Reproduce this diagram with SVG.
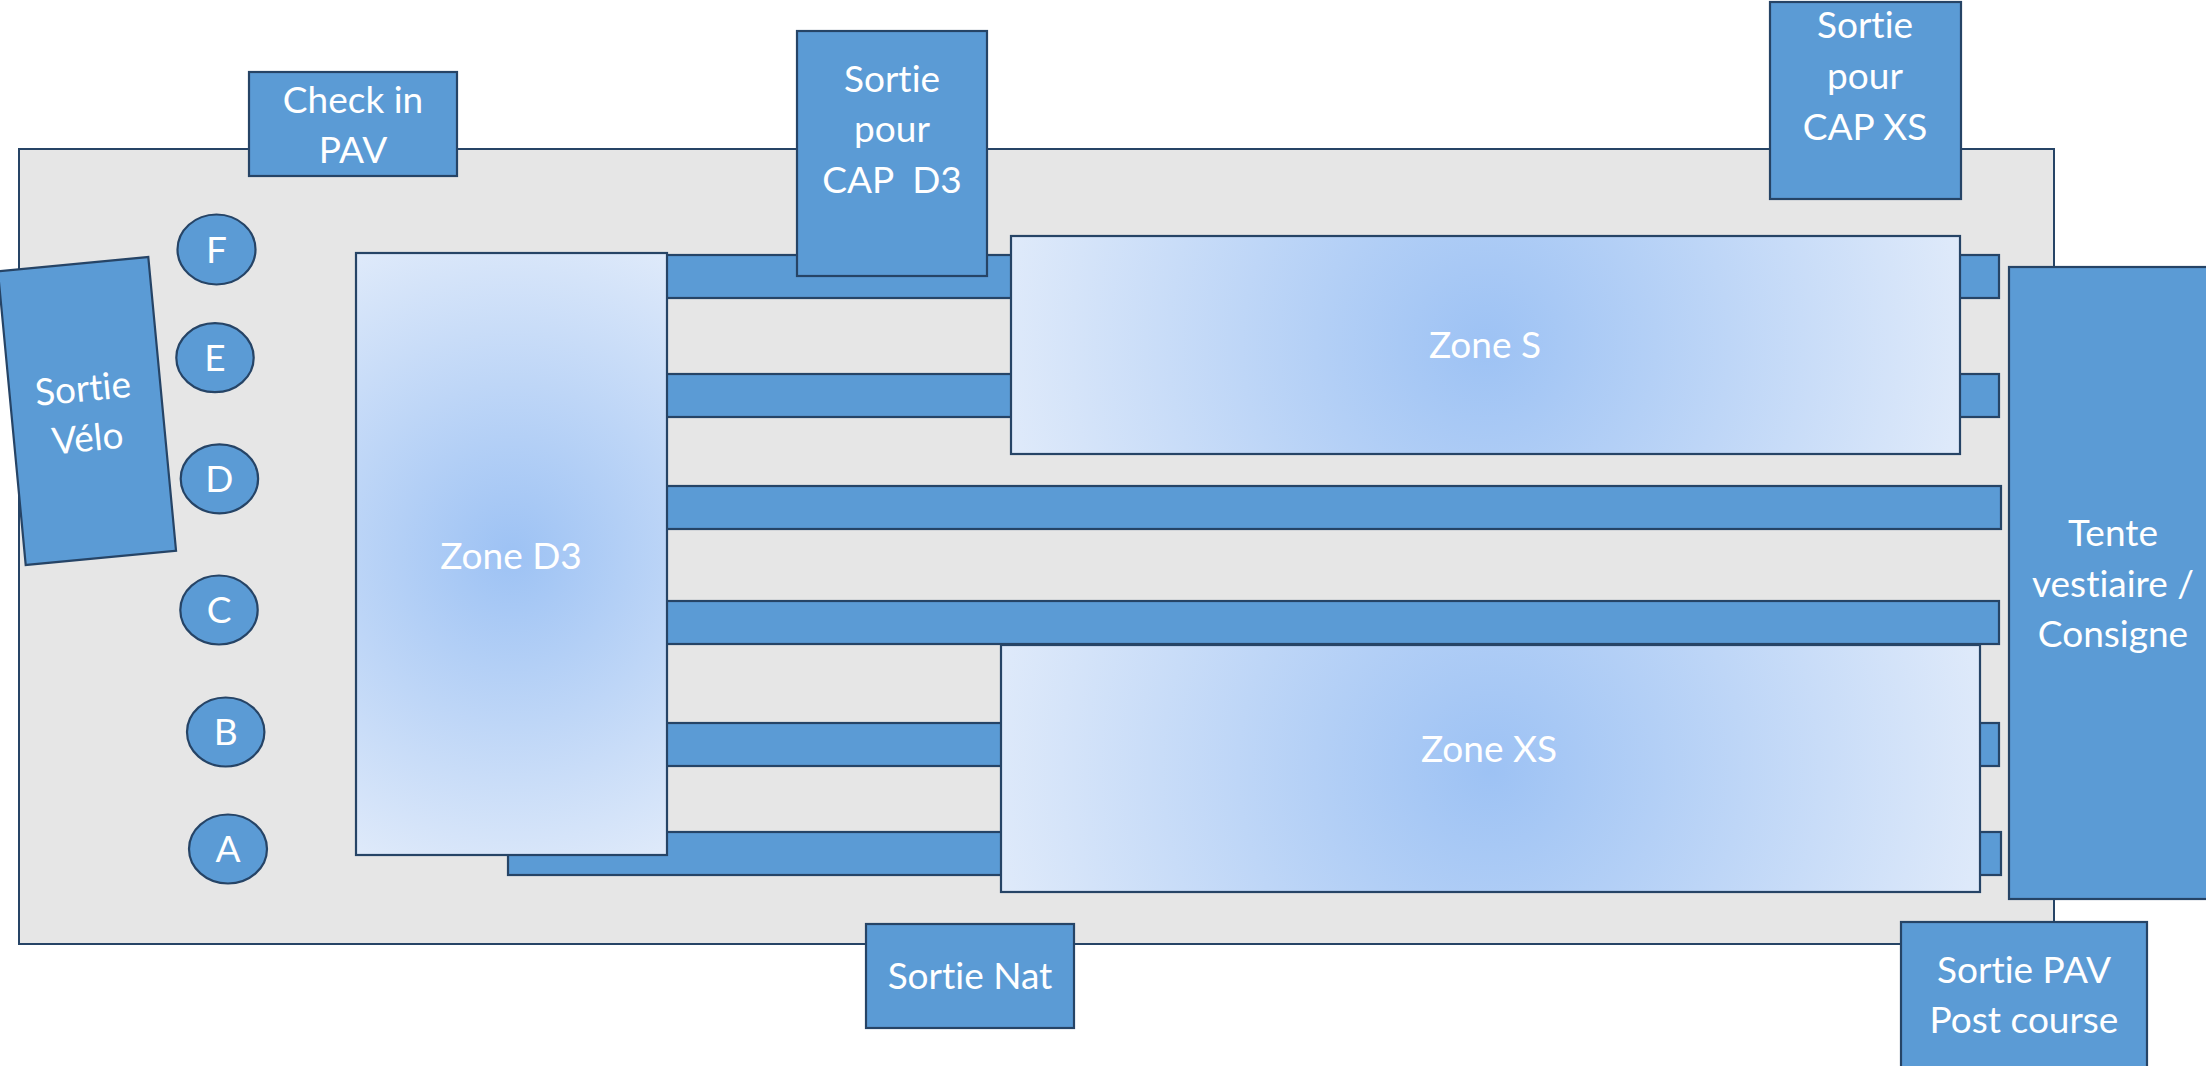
<svg xmlns="http://www.w3.org/2000/svg" width="2206" height="1066" viewBox="0 0 2206 1066">
  <defs>
    <radialGradient id="gradD3" gradientUnits="userSpaceOnUse" cx="511.5" cy="554" r="339">
      <stop offset="0" stop-color="#9dc2f4"/>
      <stop offset="1" stop-color="#dfeafa"/>
    </radialGradient>
    <radialGradient id="gradS" gradientUnits="userSpaceOnUse" cx="1485.5" cy="345" r="487">
      <stop offset="0" stop-color="#9dc2f4"/>
      <stop offset="1" stop-color="#dfeafa"/>
    </radialGradient>
    <radialGradient id="gradXS" gradientUnits="userSpaceOnUse" cx="1490.5" cy="768.5" r="505">
      <stop offset="0" stop-color="#9dc2f4"/>
      <stop offset="1" stop-color="#dfeafa"/>
    </radialGradient>
    <style>
      .ground { fill: #e6e6e6; stroke: #264466; stroke-width: 2; }
      .box { fill: #5b9bd5; stroke: #264466; stroke-width: 2.2; }
      .zone { stroke: #264466; stroke-width: 2.2; }
      .lbl { font-family: Lato, "Open Sans", "Liberation Sans", sans-serif; font-size: 37px; fill: #ffffff; text-anchor: middle; font-variant-ligatures: none; font-feature-settings: "liga" 0, "clig" 0; }
    </style>
  </defs>
  <rect width="2206" height="1066" fill="#ffffff"/>

  <g id="terrain">
    <rect class="ground" x="19" y="149" width="2035" height="795"/>
  </g>

  <g id="check-in-pav">
    <rect class="box" x="249" y="72" width="208" height="104"/>
    <text class="lbl" x="353"><tspan x="353" y="113">Check in</tspan><tspan x="353" y="163">PAV</tspan></text>
  </g>

  <g id="sortie-velo" transform="translate(87,411) rotate(-5.4)">
    <rect class="box" x="-75.5" y="-147.5" width="151" height="295"/>
    <text class="lbl"><tspan x="-2" y="-10">Sortie</tspan><tspan x="-2" y="40">Vélo</tspan></text>
  </g>

  <g id="circle-f"><ellipse class="box" cx="216.5" cy="249.5" rx="39" ry="35"/><text class="lbl" x="216.5" y="263">F</text></g>
  <g id="circle-e"><ellipse class="box" cx="215" cy="357.7" rx="38.7" ry="34.5"/><text class="lbl" x="215" y="371">E</text></g>
  <g id="circle-d"><ellipse class="box" cx="219.4" cy="478.8" rx="38.7" ry="34.5"/><text class="lbl" x="219.4" y="492">D</text></g>
  <g id="circle-c"><ellipse class="box" cx="219" cy="610" rx="38.7" ry="34.5"/><text class="lbl" x="219" y="623">C</text></g>
  <g id="circle-b"><ellipse class="box" cx="225.7" cy="732" rx="38.7" ry="34.5"/><text class="lbl" x="225.7" y="745">B</text></g>
  <g id="circle-a"><ellipse class="box" cx="228" cy="849" rx="39" ry="34.5"/><text class="lbl" x="228" y="862">A</text></g>

  <g id="bars">
    <rect class="box" x="660" y="255" width="1339" height="43"/>
    <rect class="box" x="660" y="374" width="1339" height="43"/>
    <rect class="box" x="660" y="486" width="1341" height="43"/>
    <rect class="box" x="660" y="601" width="1339" height="43"/>
    <rect class="box" x="660" y="723" width="1339" height="43"/>
    <rect class="box" x="508" y="832" width="1493" height="43"/>
  </g>

  <g id="zone-d3">
    <rect class="zone" fill="url(#gradD3)" x="356" y="253" width="311" height="602"/>
    <text class="lbl" x="511" y="569">Zone D3</text>
  </g>

  <g id="zone-s">
    <rect class="zone" fill="url(#gradS)" x="1011" y="236" width="949" height="218"/>
    <text class="lbl" x="1485" y="358">Zone S</text>
  </g>

  <g id="zone-xs">
    <rect class="zone" fill="url(#gradXS)" x="1001" y="645" width="979" height="247"/>
    <text class="lbl" x="1489" y="762">Zone XS</text>
  </g>

  <g id="sortie-cap-d3">
    <rect class="box" x="797" y="31" width="190" height="245"/>
    <text class="lbl" xml:space="preserve"><tspan x="892" y="92">Sortie</tspan><tspan x="892" y="142">pour</tspan><tspan x="892" y="193">CAP  D3</tspan></text>
  </g>

  <g id="sortie-cap-xs">
    <rect class="box" x="1770" y="2" width="191" height="197"/>
    <text class="lbl"><tspan x="1865" y="38">Sortie</tspan><tspan x="1865" y="89">pour</tspan><tspan x="1865" y="140">CAP XS</tspan></text>
  </g>

  <g id="tente-vestiaire">
    <rect class="box" x="2009" y="267" width="215" height="632"/>
    <text class="lbl"><tspan x="2113" y="546">Tente</tspan><tspan x="2113" y="597">vestiaire /</tspan><tspan x="2113" y="647">Consigne</tspan></text>
  </g>

  <g id="sortie-nat">
    <rect class="box" x="866" y="924" width="208" height="104"/>
    <text class="lbl" x="970" y="989">Sortie Nat</text>
  </g>

  <g id="sortie-pav">
    <rect class="box" x="1901" y="922" width="246" height="160"/>
    <text class="lbl"><tspan x="2024" y="983">Sortie PAV</tspan><tspan x="2024" y="1033">Post course</tspan></text>
  </g>
</svg>
